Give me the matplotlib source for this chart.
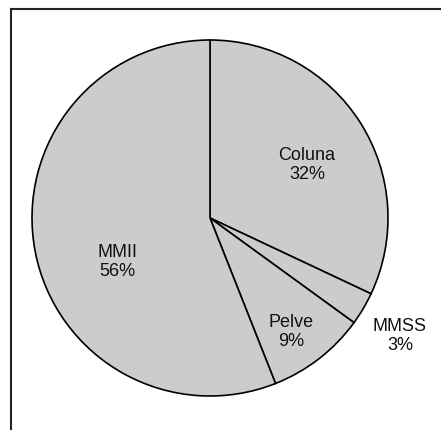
import matplotlib
matplotlib.use("Agg")
import matplotlib.pyplot as plt
from matplotlib.patches import Rectangle

# Dados do grafico
categorias = ["Coluna", "MMSS", "Pelve", "MMII"]
percentuais = [32, 3, 9, 56]

# posicao dos rotulos (pixels a partir do topo-esquerdo)
pos_rotulos = [(307, 165), (400, 336), (291, 332), (117, 262)]

plt.rcParams["font.family"] = ["Liberation Sans", "DejaVu Sans"]

W, H = 441, 431
fig = plt.figure(figsize=(W / 100, H / 100), dpi=100)
ax = fig.add_axes([0, 0, 1, 1])

ax.pie(percentuais, center=(210, H - 219), radius=178, startangle=90, counterclock=False,
       colors=["#cccccc"] * len(percentuais),
       wedgeprops=dict(edgecolor="black", linewidth=1.2))

# limites depois do pie (o pie mexe nos limites)
ax.set_xlim(0, W)
ax.set_ylim(0, H)
ax.set_aspect("equal")
ax.axis("off")

# moldura
ax.add_patch(Rectangle((11, -50), 480, H - 10 + 50, fill=False,
                       edgecolor="#222222", linewidth=1.5))

for nome, p, (x, y) in zip(categorias, percentuais, pos_rotulos):
    ax.text(x, H - y, f"{nome}\n{p}%", ha="center", va="center", fontsize=13,
            color="#111111", linespacing=1.15)

fig.savefig("out.png", dpi=100)
